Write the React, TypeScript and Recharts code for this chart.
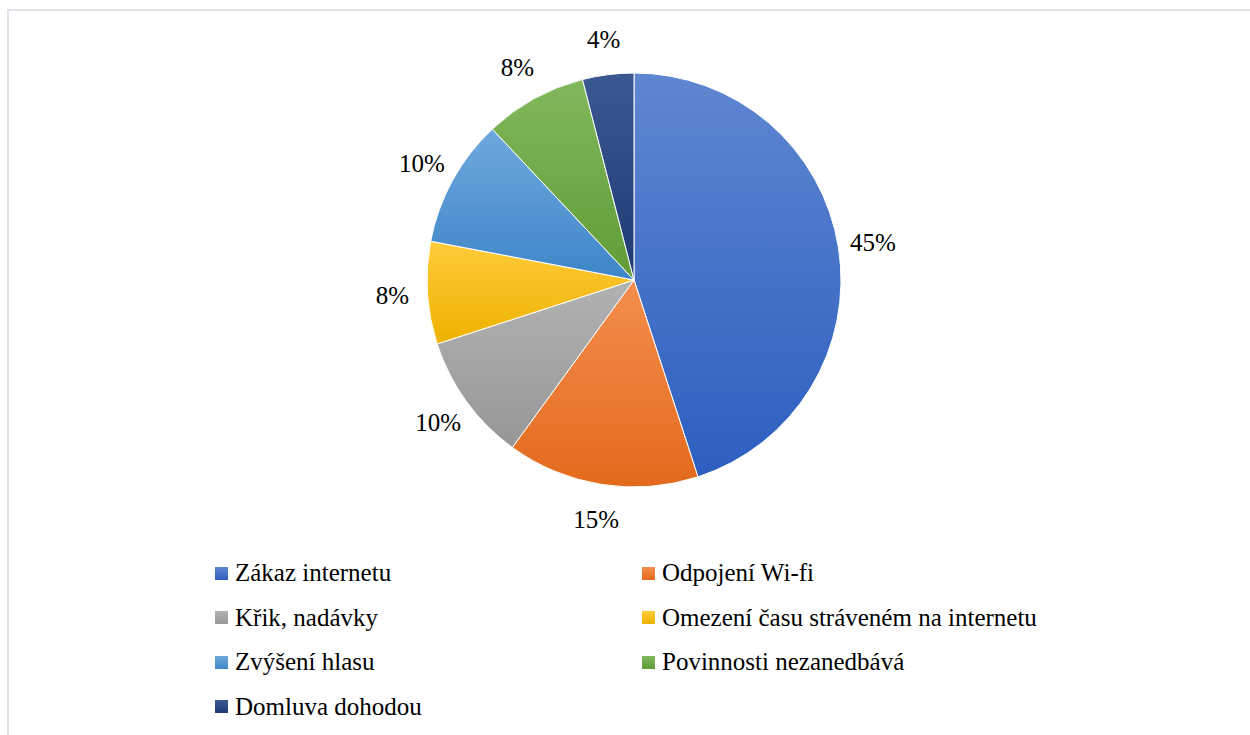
import React from 'react';
import { PieChart, Pie, Cell, Legend } from 'recharts';

const categories = [
  'Zákaz internetu',
  'Odpojení Wi-fi',
  'Křik, nadávky',
  'Omezení času stráveném na internetu',
  'Zvýšení hlasu',
  'Povinnosti nezanedbává',
  'Domluva dohodou',
];
const shares = [45, 15, 10, 8, 10, 8, 4];

// light (top) / dark (bottom) gradient stops, office-like palette
const topColors = ['#5f86d0', '#f48e4e', '#b2b2b2', '#ffcb3a', '#6fa8de', '#81b85c', '#3b5890'];
const bottomColors = ['#2d5fc0', '#e36a1c', '#979797', '#edb200', '#3e86c8', '#5f9c36', '#1f3a72'];

const data = categories.map((name, i) => ({ name, value: shares[i] }));

const FONT = "'Liberation Serif', 'DejaVu Serif', serif";
const RAD = Math.PI / 180;

const renderLabel = (props: any) => {
  const { cx, cy, midAngle, outerRadius, value } = props;
  const r = outerRadius + 35;
  const x = cx + r * Math.cos(-midAngle * RAD);
  const y = cy + r * Math.sin(-midAngle * RAD);
  return (
    <text x={x} y={y} fill="#000" fontFamily={FONT} fontSize={25} textAnchor="middle" dominantBaseline="central">
      {value}%
    </text>
  );
};

const renderLegend = (props: any) => {
  const items = props.payload || [];
  return (
    <div style={{ display: 'grid', gridTemplateColumns: '427px 427px', fontFamily: FONT, fontSize: 25, color: '#000' }}>
      {items.map((item: any, i: number) => {
        const idx = categories.indexOf(item.value);
        return (
          <div key={`leg-${i}`} style={{ display: 'flex', alignItems: 'center', height: 44.5 }}>
            <span
              style={{
                width: 13,
                height: 13,
                marginRight: 7,
                background: `linear-gradient(${topColors[idx]}, ${bottomColors[idx]})`,
                display: 'inline-block',
              }}
            />
            <span>{item.value}</span>
          </div>
        );
      })}
    </div>
  );
};

export default function App() {
  return (
    <div style={{ position: 'absolute', left: 0, top: 0, width: 1250, height: 735, background: '#fff', overflow: 'hidden' }}>
      <div
        style={{
          position: 'absolute',
          left: 7,
          top: 9,
          width: 1243,
          height: 726,
          borderTop: '2px solid #dde1e8',
          borderLeft: '2px solid #dde1e8',
        }}
      />
      <div style={{ position: 'absolute', left: 0, top: 0 }}>
        <PieChart width={1250} height={735} margin={{ top: 0, right: 0, bottom: 0, left: 0 }}>
          <defs>
            {topColors.map((c, i) => (
              <linearGradient key={`g-${i}`} id={`grad-${i}`} x1="0" y1="0" x2="0" y2="1">
                <stop offset="0%" stopColor={c} />
                <stop offset="100%" stopColor={bottomColors[i]} />
              </linearGradient>
            ))}
          </defs>
          <Pie
            data={data}
            dataKey="value"
            nameKey="name"
            cx={634}
            cy={280}
            outerRadius={207}
            startAngle={90}
            endAngle={-270}
            stroke="#fff"
            strokeWidth={1}
            label={renderLabel}
            labelLine={false}
            isAnimationActive={false}
          >
            {data.map((entry, i) => (
              <Cell key={`cell-${i}`} fill={`url(#grad-${i})`} />
            ))}
          </Pie>
          <Legend
            content={renderLegend}
            itemSorter={null as any}
            wrapperStyle={{ position: 'absolute', left: 215, top: 551, width: 860, bottom: 'auto' }}
          />
        </PieChart>
      </div>
    </div>
  );
}
